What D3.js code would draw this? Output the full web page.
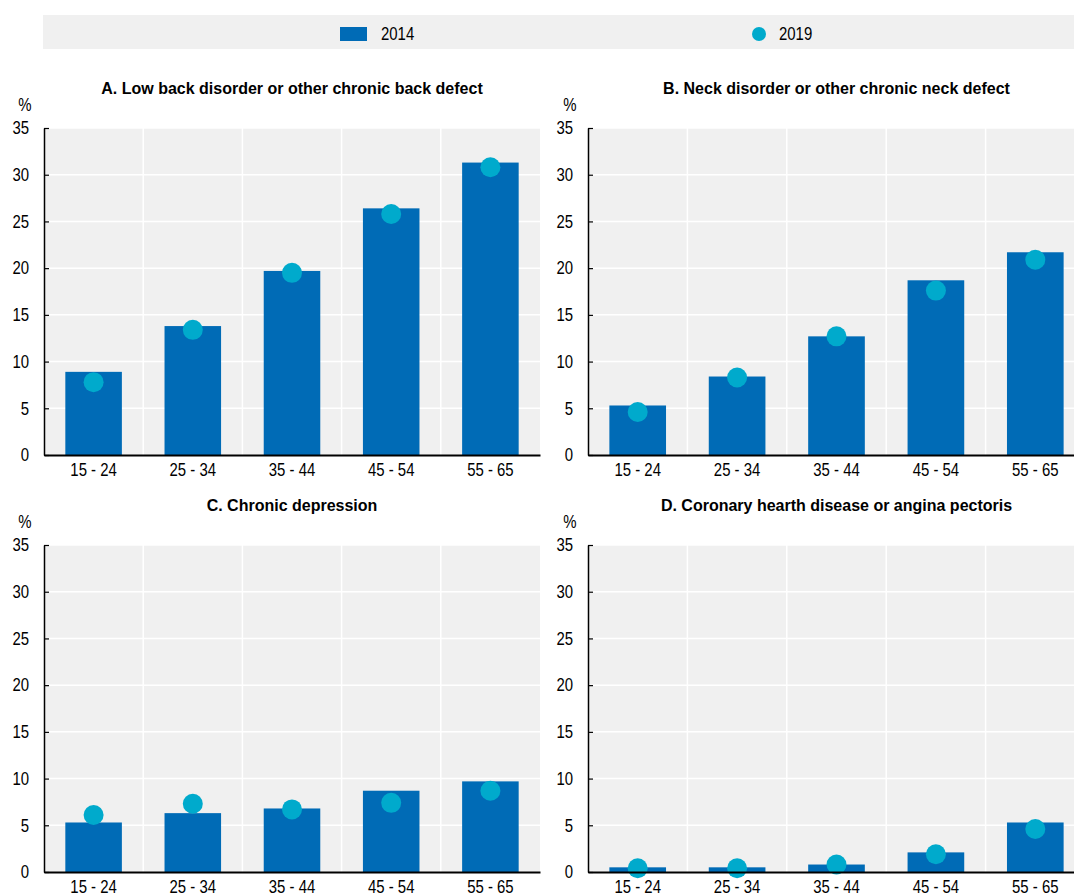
<!DOCTYPE html>
<html>
<head>
<meta charset="utf-8">
<script src="https://cdn.jsdelivr.net/npm/d3@7"></script>
<style>
  html, body { margin: 0; padding: 0; background: #ffffff; }
  svg { display: block; }
  text { font-family: "Liberation Sans", Arial, sans-serif; fill: #000; }
</style>
</head>
<body>
<svg id="chart" width="1074" height="894"></svg>
<script>
// Age groups shared by all four panels
const ageGroups = ["15 - 24", "25 - 34", "35 - 44", "45 - 54", "55 - 65"];
const seriesNames = ["2014", "2019"];
const yTicks = [0, 5, 10, 15, 20, 25, 30, 35];

// Share of people reporting each condition (%)
const backDefect2014 = [8.9, 13.8, 19.7, 26.4, 31.3];
const backDefect2019 = [7.8, 13.4, 19.5, 25.8, 30.8];
const neckDefect2014 = [5.3, 8.4, 12.7, 18.7, 21.7];
const neckDefect2019 = [4.6, 8.3, 12.7, 17.6, 20.9];
const depression2014 = [5.3, 6.3, 6.8, 8.7, 9.7];
const depression2019 = [6.1, 7.3, 6.7, 7.4, 8.7];
const coronary2014 = [0.5, 0.5, 0.8, 2.1, 5.3];
const coronary2019 = [0.4, 0.4, 0.8, 1.9, 4.6];

const panelTitles = [
  "A. Low back disorder or other chronic back defect",
  "B. Neck disorder or other chronic neck defect",
  "C. Chronic depression",
  "D. Coronary hearth disease or angina pectoris"
];

const panels = [
  { title: panelTitles[0], bars: backDefect2014, dots: backDefect2019 },
  { title: panelTitles[1], bars: neckDefect2014, dots: neckDefect2019 },
  { title: panelTitles[2], bars: depression2014, dots: depression2019 },
  { title: panelTitles[3], bars: coronary2014, dots: coronary2019 }
];

const barColor = "#006bb6";
const dotColor = "#00aacc";
const plotBg = "#f0f0f0";
const NARROW = 0.83; // horizontal squeeze for the condensed label face

const svg = d3.select("#chart");

// Condensed label placed at (x, y)
function narrowText(parent, x, y, str, anchor) {
  return parent.append("text")
    .attr("transform", `translate(${x},${y}) scale(${NARROW},1)`)
    .attr("text-anchor", anchor || "start")
    .attr("font-size", 18)
    .text(str);
}

// Squeeze axis tick labels in place
function narrowTicks(sel) {
  sel.each(function () {
    const t = d3.select(this);
    const x = +t.attr("x") || 0;
    t.attr("x", x / NARROW).attr("transform", `scale(${NARROW},1)`)
      .attr("font-size", 18).attr("font-family", null).attr("fill", "#000");
  });
}

// Legend strip
const legend = svg.append("g");
legend.append("rect").attr("x", 43).attr("y", 15).attr("width", 1031).attr("height", 34).attr("fill", plotBg);
legend.append("rect").attr("x", 340).attr("y", 27).attr("width", 27).attr("height", 14).attr("fill", barColor);
narrowText(legend, 381, 40, seriesNames[0]);
legend.append("circle").attr("cx", 759).attr("cy", 34).attr("r", 7).attr("fill", dotColor);
narrowText(legend, 779, 40, seriesNames[1]);

// Panel frames: columns and rows
const cols = [[44, 540], [588, 1085]];
const rows = [[455, 128], [872, 545]];

panels.forEach((p, i) => {
  const [x0, x1] = cols[i % 2];
  const [yb, yt] = rows[Math.floor(i / 2)];
  const g = svg.append("g");

  const cell = d3.scaleBand().domain(ageGroups).range([x0, x1]).padding(0);
  const x = d3.scaleBand().domain(ageGroups).range([x0, x1]).paddingInner(0.43).paddingOuter(0.215);
  const y = d3.scaleLinear().domain([0, 35]).range([yb, yt]);

  // background
  g.append("rect").attr("x", x0).attr("y", yt).attr("width", x1 - x0).attr("height", yb - yt).attr("fill", plotBg);

  // horizontal gridlines
  g.selectAll(".hg").data(yTicks.filter(d => d > 0)).join("line")
    .attr("x1", x0).attr("x2", x1)
    .attr("y1", d => y(d)).attr("y2", d => y(d))
    .attr("stroke", "#fff").attr("stroke-width", 1.5);

  // vertical gridlines between age groups
  g.selectAll(".vg").data(ageGroups.slice(1)).join("line")
    .attr("x1", d => cell(d)).attr("x2", d => cell(d))
    .attr("y1", yt).attr("y2", yb)
    .attr("stroke", "#fff").attr("stroke-width", 1.5);

  // bars (2014)
  g.selectAll(".bar").data(p.bars).join("rect")
    .attr("x", (d, k) => x(ageGroups[k]))
    .attr("width", x.bandwidth())
    .attr("y", d => y(d))
    .attr("height", d => y(0) - y(d))
    .attr("fill", barColor);

  // dots (2019)
  g.selectAll(".dot").data(p.dots).join("circle")
    .attr("cx", (d, k) => x(ageGroups[k]) + x.bandwidth() / 2)
    .attr("cy", d => y(d))
    .attr("r", 10)
    .attr("fill", dotColor);

  // y axis
  const yAxis = d3.axisLeft(y).tickValues(yTicks).tickSize(-5).tickSizeOuter(0).tickPadding(15);
  const ya = g.append("g").attr("transform", `translate(${x0},0)`).call(yAxis);
  ya.select(".domain").attr("stroke", "#000").attr("stroke-width", 1.5);
  ya.selectAll(".tick line").attr("stroke", "#000").attr("stroke-width", 1.2);
  ya.selectAll(".tick text").attr("x", -15).call(narrowTicks);

  // x axis
  const xAxis = d3.axisBottom(cell).tickSize(0).tickSizeOuter(0).tickPadding(8);
  const xa = g.append("g").attr("transform", `translate(0,${yb})`).call(xAxis);
  xa.select(".domain").attr("stroke", "#000").attr("stroke-width", 2);
  xa.selectAll(".tick text").call(narrowTicks);

  // unit label
  narrowText(g, i % 2 === 0 ? 25 : x0 - 18, yt - 17, "%", "middle");

  // title
  g.append("text").attr("x", (x0 + x1) / 2).attr("y", yt - 34)
    .attr("text-anchor", "middle").attr("font-size", 16).attr("font-weight", "bold")
    .text(p.title);
});
</script>
</body>
</html>
